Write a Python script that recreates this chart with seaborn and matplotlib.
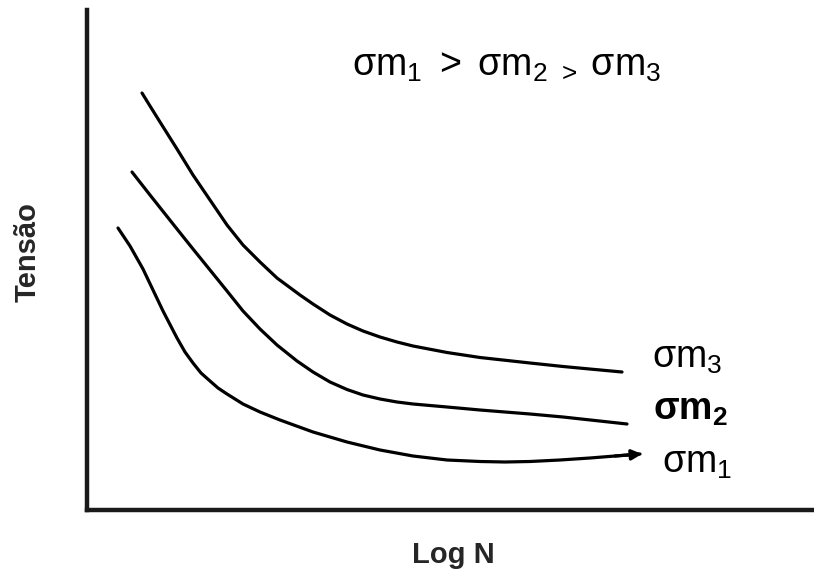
import matplotlib
matplotlib.use("Agg")
import matplotlib.pyplot as plt
import seaborn as sns
import pandas as pd

# ---- data (arbitrary units) ----
x_m3 = [142, 150, 160, 177, 193, 210, 227, 243, 260, 277, 300, 313, 330, 347, 363, 380, 397, 413, 447, 480, 530, 563, 595, 622]
y_m3 = [479, 466, 450, 423, 397, 372, 347, 327, 310, 294, 277, 268, 257, 248, 241, 235, 230, 226, 219.5, 214.5, 209, 205.5, 202.5, 200]

x_m2 = [132, 150, 177, 193, 210, 227, 243, 260, 277, 297, 313, 330, 347, 363, 380, 397, 413, 447, 480, 530, 563, 595, 627]
y_m2 = [400, 377, 343, 323, 302, 281, 261, 243, 227, 211, 200, 190, 182.5, 177, 173, 170, 168, 165, 162, 158, 155, 151.5, 148]

x_m1 = [118, 130, 143, 153, 163, 177, 185, 193, 201, 210, 218, 227, 243, 260, 280, 313, 347, 380, 413, 447, 480, 505, 530, 560, 590, 615, 640]
y_m1 = [344, 326, 303, 282, 261, 234, 220, 209, 199, 191, 184, 178, 168, 160, 152, 140, 130, 122, 116, 112, 110.5, 110, 110.5, 112, 114, 116, 118]

series_names = ["m3", "m2", "m1"]
series_labels = [r"$\mathregular{σm_3}$", r"$\mathbf{σm_2}$", r"$\mathregular{σm_1}$"]
label_x = [687, 690, 697]
label_y = [214, 162, 109]
title_text = r"$\mathregular{σm_1\ >\ σm_2\;{}_{>}\;σm_3}$"
xlabel = "Log N"
ylabel = "Tensão"

sns.set_theme(style="white")
plt.rcParams["font.family"] = ["Liberation Sans", "DejaVu Sans"]
plt.rcParams["mathtext.fontset"] = "custom"
plt.rcParams["mathtext.rm"] = "Liberation Sans"
plt.rcParams["mathtext.bf"] = "Liberation Sans:bold"
plt.rcParams["mathtext.it"] = "Liberation Sans"
plt.rcParams["mathtext.default"] = "regular"

df = pd.concat([
    pd.DataFrame({"x": x_m3, "y": y_m3, "s": series_names[0]}),
    pd.DataFrame({"x": x_m2, "y": y_m2, "s": series_names[1]}),
    pd.DataFrame({"x": x_m1, "y": y_m1, "s": series_names[2]}),
])

fig = plt.figure(figsize=(8.14, 5.72), dpi=100)
ax = fig.add_axes([87 / 814, 62 / 572, (814 - 87) / 814, (510 - 10) / 572])

sns.lineplot(data=df, x="x", y="y", units="s", estimator=None, sort=False,
             color="black", linewidth=2.3, ax=ax, legend=False)
for line in ax.lines:
    line.set_solid_capstyle("round")
    line.set_solid_joinstyle("round")

# small arrow head at the end of the lowest curve
ax.annotate("", xy=(x_m1[-1] + 2, y_m1[-1]), xytext=(x_m1[-2], y_m1[-2]),
            arrowprops=dict(arrowstyle="-|>", color="black", lw=2.3,
                            mutation_scale=15, shrinkA=0, shrinkB=0))

ax.set_xlim(87, 814)
ax.set_ylim(62, 562)
ax.set_xticks([])
ax.set_yticks([])
ax.set_xlabel("")
ax.set_ylabel("")

for sp in ["top", "right"]:
    ax.spines[sp].set_visible(False)
for sp in ["left", "bottom"]:
    ax.spines[sp].set_color("#1a1a1a")
    ax.spines[sp].set_linewidth(3.2)

for lab, lx, ly in zip(series_labels, label_x, label_y):
    ax.text(lx, ly, lab, fontsize=27, ha="center", va="center", color="black")

ax.text(507, 506, title_text, fontsize=27, ha="center", va="center", color="black")

fig.text(453 / 814, 1 - 555 / 572, xlabel, fontsize=21, fontweight="bold",
         ha="center", va="center")
fig.text(28 / 814, 1 - 252 / 572, ylabel, fontsize=21, fontweight="bold",
         ha="center", va="center", rotation=90)

fig.savefig("out.png", dpi=100, facecolor="white")
